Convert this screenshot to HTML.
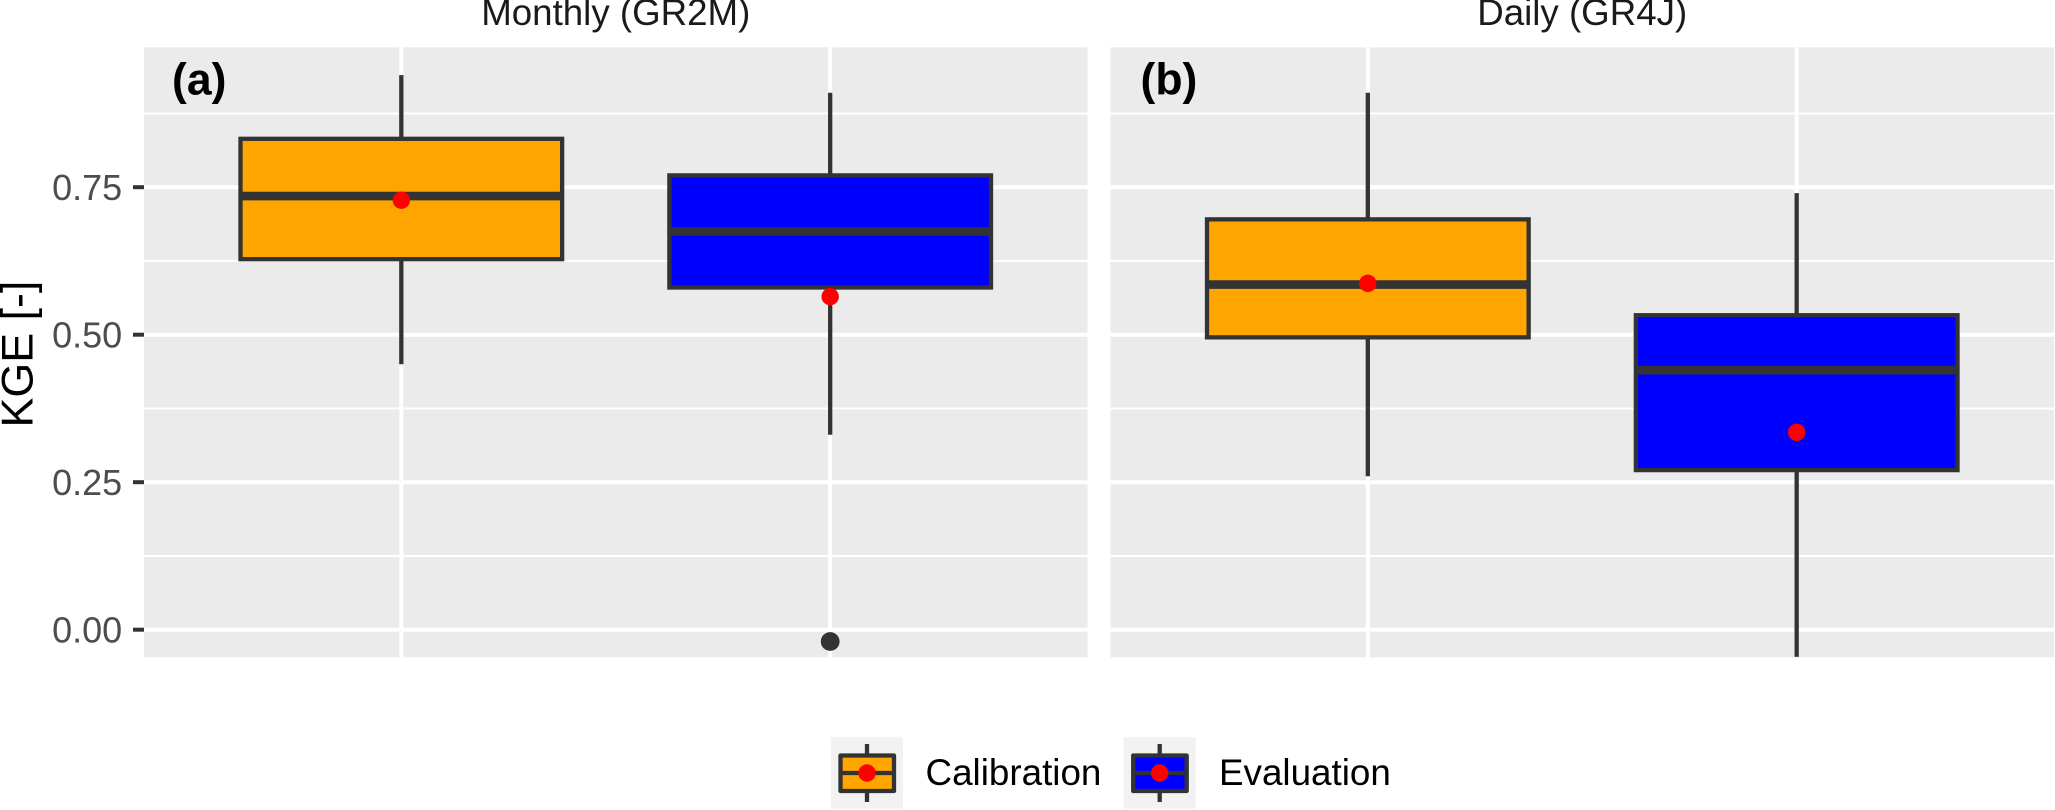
<!DOCTYPE html>
<html lang="en">
<head>
<meta charset="utf-8">
<title>KGE boxplots</title>
<style>
html,body{margin:0;padding:0;background:#fff;width:2055px;height:810px;overflow:hidden}
svg{display:block}
text{font-family:"Liberation Sans",Arial,sans-serif}
</style>
</head>
<body>
<svg id="chart" xmlns="http://www.w3.org/2000/svg" width="2055" height="810" viewBox="0 0 2055 810">
  <rect x="0" y="0" width="2055" height="810" fill="#ffffff"/>
  <g id="panels"></g>
  <g id="y-axis"></g>
  <text transform="translate(32.4,427.5) rotate(-90)" font-size="44.8" fill="#000000">KGE [-]</text>
  <text x="615.75" y="25" font-size="36.7" fill="#1a1a1a" text-anchor="middle">Monthly (GR2M)</text>
  <text x="1582.2" y="25" font-size="36.7" fill="#1a1a1a" text-anchor="middle">Daily (GR4J)</text>
  <text x="172" y="94.3" font-size="44.5" font-weight="bold" fill="#000000">(a)</text>
  <text x="1140.5" y="94.3" font-size="44.5" font-weight="bold" fill="#000000">(b)</text>
  <g>
    <g>
      <rect x="831" y="737.3" width="72" height="71.4" fill="#f2f2f2"/>
      <line x1="867" x2="867" y1="744" y2="802" stroke="#333333" stroke-width="4.3"/>
      <rect x="840.5" y="755.5" width="53.5" height="35.5" fill="#ffa500" stroke="#333333" stroke-width="4.3" stroke-linejoin="round"/>
      <line x1="840.5" x2="894" y1="773" y2="773" stroke="#333333" stroke-width="4.3"/>
      <circle cx="867" cy="773" r="8.7" fill="#ff0000"/>
      <text x="925.5" y="785" font-size="36.8" fill="#000000">Calibration</text>
    </g>
    <g>
      <rect x="1123.7" y="737.3" width="72" height="71.4" fill="#f2f2f2"/>
      <line x1="1159.7" x2="1159.7" y1="744" y2="802" stroke="#333333" stroke-width="4.3"/>
      <rect x="1133.2" y="755.5" width="53.5" height="35.5" fill="#0000ff" stroke="#333333" stroke-width="4.3" stroke-linejoin="round"/>
      <line x1="1133.2" x2="1186.7" y1="773" y2="773" stroke="#333333" stroke-width="4.3"/>
      <circle cx="1159.7" cy="773" r="8.7" fill="#ff0000"/>
      <text x="1219" y="785" font-size="36.8" fill="#000000">Evaluation</text>
    </g>
  </g>
</svg>
<script>
// Chart data (each inner array: [Calibration, Evaluation])
const panelNames = ['monthly', 'daily'];
const categories = ['calibration', 'evaluation'];
const fillColors = ['#ffa500', '#0000ff'];
const whiskerHigh = [[0.940, 0.910], [0.910, 0.740]];
const boxUpper = [[0.832, 0.770], [0.6955, 0.533]];
const medians = [[0.735, 0.675], [0.585, 0.440]];
const boxLower = [[0.628, 0.580], [0.4955, 0.2705]];
const whiskerLow = [[0.450, 0.3305], [0.260, -0.046]];
const means = [[0.728, 0.5645], [0.587, 0.3345]];
const outliers = [[[], [-0.020]], [[], []]];
const yTickValues = [0, 0.25, 0.5, 0.75];
const yTickLabels = ['0.00', '0.25', '0.50', '0.75'];
const yMinorValues = [0.125, 0.375, 0.625, 0.875];

const NS = 'http://www.w3.org/2000/svg';
const panelTop = 47.3, panelBottom = 657.3, panelWidth = 943.5;
const panelLefts = [144, 1110.5];

function yScale(v) { return 629.7 - 590 * v; }
function xScale(panel, cat) { return panelLefts[panel] + (cat + 0.6) * panelWidth / 2.2; }
const boxHalf = 0.375 * panelWidth / 2.2;

function make(tag, attrs, parent) {
  const el = document.createElementNS(NS, tag);
  for (const k in attrs) el.setAttribute(k, attrs[k]);
  parent.appendChild(el);
  return el;
}

const panelsRoot = document.getElementById('panels');
panelNames.forEach(function (panelName, p) {
  const left = panelLefts[p], right = left + panelWidth;
  const g = make('g', {}, panelsRoot);
  
  

  const bg = make('rect', { x: left, y: panelTop, width: panelWidth, height: panelBottom - panelTop, fill: '#ebebeb' }, g);
  
  

  yMinorValues.forEach(function (v) {
    const line = make('line', { x1: left, x2: right, y1: yScale(v), y2: yScale(v), stroke: '#ffffff', 'stroke-width': 2 }, g);
    
    
  });
  yTickValues.forEach(function (v) {
    const line = make('line', { x1: left, x2: right, y1: yScale(v), y2: yScale(v), stroke: '#ffffff', 'stroke-width': 4 }, g);
    
    
  });
  categories.forEach(function (c, i) {
    const x = xScale(p, i);
    const line = make('line', { x1: x, x2: x, y1: panelTop, y2: panelBottom, stroke: '#ffffff', 'stroke-width': 4 }, g);
    
    
  });

  categories.forEach(function (c, i) {
    const x = xScale(p, i);

    const upper = make('line', { x1: x, x2: x, y1: yScale(whiskerHigh[p][i]), y2: yScale(boxUpper[p][i]), stroke: '#333333', 'stroke-width': 4.3 }, g);
    
    

    const lower = make('line', { x1: x, x2: x, y1: yScale(boxLower[p][i]), y2: yScale(whiskerLow[p][i]), stroke: '#333333', 'stroke-width': 4.3 }, g);
    
    

    const box = make('rect', {
      x: x - boxHalf, y: yScale(boxUpper[p][i]), width: boxHalf * 2,
      height: yScale(boxLower[p][i]) - yScale(boxUpper[p][i]),
      fill: fillColors[i], stroke: '#333333', 'stroke-width': 4.3
    }, g);
    
    

    const median = make('line', { x1: x - boxHalf, x2: x + boxHalf, y1: yScale(medians[p][i]), y2: yScale(medians[p][i]), stroke: '#333333', 'stroke-width': 8.7 }, g);
    
    

    outliers[p][i].forEach(function (v) {
      const pt = make('circle', { cx: x, cy: yScale(v), r: 9.4, fill: '#333333' }, g);
      
      
    });

    const mean = make('circle', { cx: x, cy: yScale(means[p][i]), r: 8.7, fill: '#ff0000' }, g);
    
    
  });
});

const yAxis = document.getElementById('y-axis');
yTickValues.forEach(function (v, i) {
  const tick = make('line', { x1: 133, x2: 144, y1: yScale(v), y2: yScale(v), stroke: '#333333', 'stroke-width': 4 }, yAxis);
  
  

  const label = make('text', { x: 122.2, y: yScale(v) + 12.8, 'font-size': 36, fill: '#4d4d4d', 'text-anchor': 'end' }, yAxis);
  label.textContent = yTickLabels[i];
  
  
});
</script>
</body>
</html>
